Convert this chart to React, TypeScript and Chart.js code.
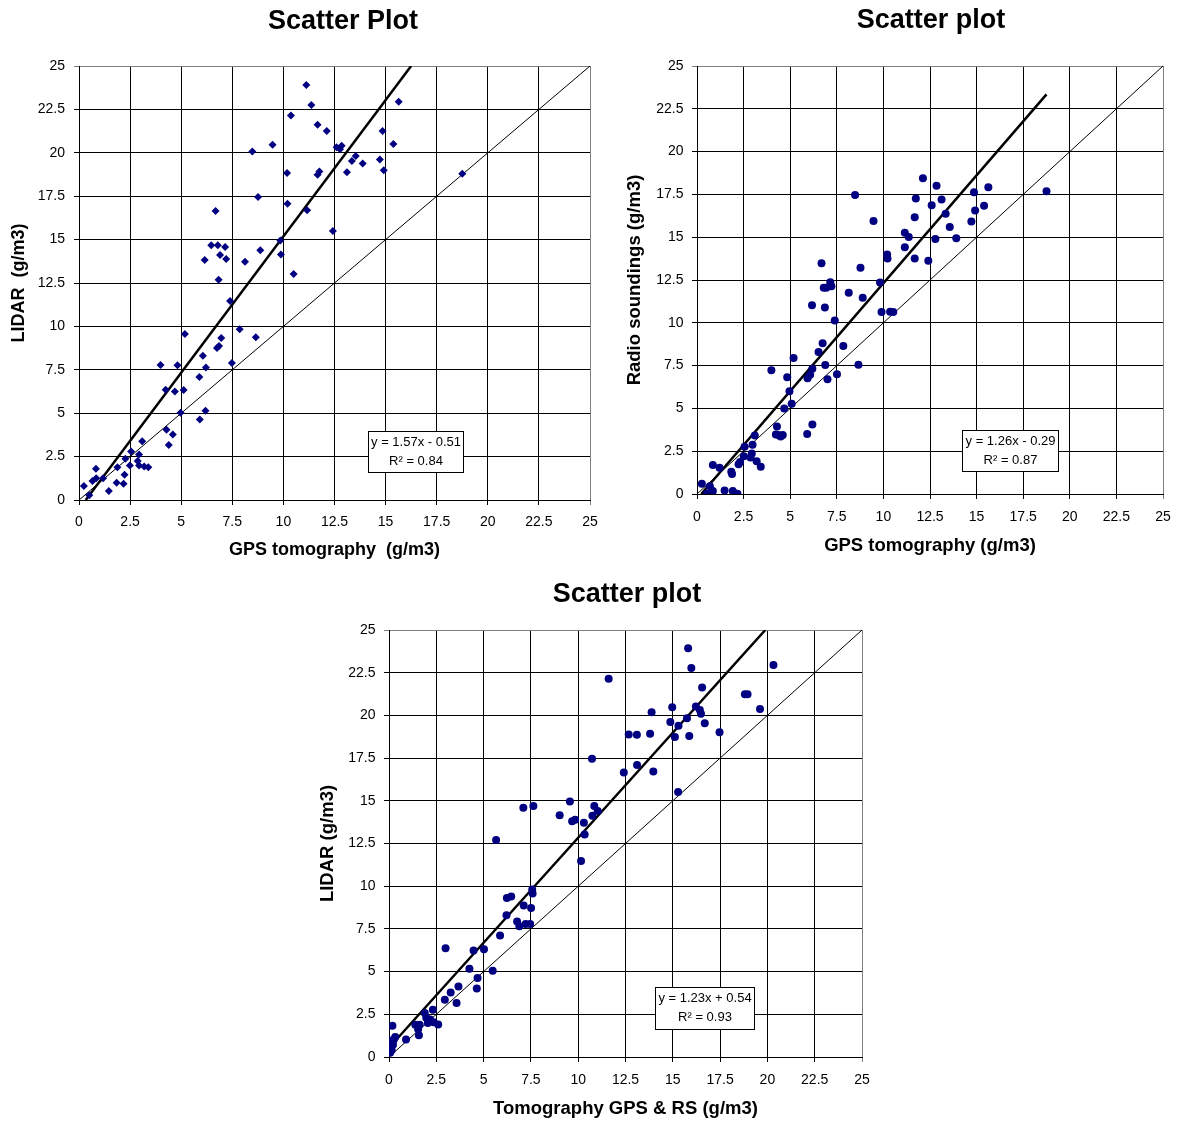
import React, { useEffect, useRef } from "react";
import { Chart, registerables } from "chart.js";

Chart.register(...registerables);

const FONT = "'Liberation Sans', Arial, Helvetica, sans-serif";
const NAVY = "#000080";

// ---------- Chart 1: GPS tomography vs LIDAR ----------
const gps1 = [0.83, 0.24, 0.5, 0.66, 0.84, 1.18, 1.46, 1.88, 1.84, 2.18, 2.23, 2.27, 2.55, 2.49, 2.94, 2.87, 2.94, 3.09, 3.19, 3.39, 3.99, 4.24, 4.28, 4.39, 4.59, 4.82, 4.69, 4.97, 5.12, 5.18, 5.89, 5.91, 6.06, 6.21, 6.19, 6.15, 6.47, 6.68, 6.79, 6.9, 6.83, 6.75, 6.85, 6.96, 7.15, 7.2, 7.39, 7.48, 7.86, 8.12, 8.48, 8.65, 8.76, 8.87, 9.47, 9.85, 9.88, 10.18, 10.2, 10.37, 10.5, 11.12, 11.16, 11.37, 11.67, 11.67, 11.76, 12.12, 12.42, 12.6, 12.77, 12.85, 13.11, 13.35, 13.54, 13.88, 14.72, 14.85, 14.91, 15.38, 15.64, 18.75];
const lidar1 = [1.8, 0.8, 0.27, 1.09, 1.26, 1.26, 0.52, 1.89, 1.0, 0.94, 1.45, 2.37, 2.79, 1.99, 2.62, 2.24, 1.99, 3.38, 1.93, 1.89, 7.78, 6.35, 4.05, 3.17, 3.78, 7.76, 6.25, 5.03, 6.33, 9.56, 7.09, 4.63, 8.31, 7.63, 5.14, 13.82, 14.68, 16.65, 14.68, 14.11, 12.69, 8.75, 8.87, 9.33, 14.58, 13.88, 11.47, 7.89, 9.84, 13.72, 20.07, 9.38, 17.45, 14.39, 20.47, 14.95, 14.14, 18.83, 17.07, 22.15, 13.02, 23.91, 16.69, 22.76, 21.62, 18.73, 18.92, 21.25, 15.5, 20.32, 20.2, 20.41, 18.88, 19.53, 19.82, 19.38, 19.61, 21.25, 19.0, 20.51, 22.94, 18.79];
const trend1X = [0.33, 16.25];
const trend1Y = [0, 25];

// ---------- Chart 2: GPS tomography vs Radio soundings ----------
const gps2 = [0.26, 0.53, 0.69, 0.85, 0.85, 1.21, 1.48, 1.84, 1.88, 1.92, 2.17, 2.23, 2.31, 2.51, 2.55, 2.87, 2.94, 2.98, 3.1, 3.2, 3.42, 3.99, 4.23, 4.29, 4.37, 4.49, 4.6, 4.68, 4.84, 4.96, 5.08, 5.18, 5.91, 5.93, 6.07, 6.19, 6.19, 6.17, 6.52, 6.68, 6.74, 6.8, 6.86, 6.88, 6.94, 7.0, 7.15, 7.21, 7.39, 7.51, 7.85, 8.14, 8.48, 8.66, 8.77, 8.89, 9.47, 9.82, 9.9, 10.2, 10.22, 10.36, 10.53, 11.15, 11.15, 11.36, 11.68, 11.74, 11.68, 12.12, 12.41, 12.59, 12.79, 12.85, 13.12, 13.34, 13.56, 13.91, 14.72, 14.86, 14.92, 15.4, 15.63, 18.75];
const rs2 = [0.6, 0.02, 0.45, 0.17, 1.7, 1.53, 0.21, 1.3, 1.17, 0.17, 0.02, 1.74, 1.87, 2.21, 2.76, 2.13, 2.36, 2.87, 3.42, 1.91, 1.59, 7.23, 3.47, 3.95, 3.44, 3.36, 3.44, 5.0, 6.82, 6.0, 5.27, 7.95, 3.51, 6.76, 6.97, 4.06, 7.31, 11.03, 8.29, 13.48, 8.8, 12.05, 10.9, 7.53, 12.05, 6.7, 12.37, 12.14, 10.14, 6.99, 8.65, 11.76, 17.47, 7.55, 13.22, 11.46, 15.94, 12.35, 10.63, 13.99, 13.75, 10.65, 10.63, 15.26, 14.41, 15.01, 16.16, 17.26, 13.75, 18.45, 13.63, 16.86, 14.9, 18.01, 17.2, 16.37, 15.6, 14.94, 15.92, 17.62, 16.56, 16.84, 17.92, 17.69];
const trend2X = [0.23, 18.75];
const trend2Y = [0, 23.34];

// ---------- Chart 3: Tomography GPS & RS vs LIDAR ----------
const gpsrs3 = [0.02, 0.06, 0.14, 0.18, 0.21, 0.25, 0.33, 0.9, 1.39, 1.54, 1.58, 1.62, 1.89, 1.97, 2.05, 2.17, 2.32, 2.36, 2.6, 2.95, 2.99, 3.26, 3.57, 3.67, 4.25, 4.47, 4.64, 4.68, 5.02, 5.48, 5.66, 5.87, 6.21, 6.23, 6.46, 6.77, 6.89, 7.1, 7.12, 7.22, 7.46, 7.51, 7.57, 7.59, 7.63, 9.02, 9.56, 9.68, 9.84, 10.15, 10.3, 10.34, 10.73, 10.75, 10.85, 11.03, 11.61, 12.41, 12.67, 13.1, 13.11, 13.8, 13.88, 13.97, 14.87, 14.97, 15.11, 15.28, 15.3, 15.75, 15.81, 15.87, 15.98, 16.22, 16.43, 16.49, 16.55, 16.69, 17.47, 18.81, 18.95, 19.61, 20.32];
const lidar3 = [0.97, 0.25, 0.39, 1.83, 0.72, 1.01, 1.17, 1.03, 1.89, 1.62, 1.27, 1.89, 2.57, 2.3, 1.99, 2.2, 2.77, 2.03, 1.91, 3.35, 6.37, 3.78, 3.16, 4.13, 5.16, 6.24, 4.01, 4.62, 6.31, 5.05, 12.7, 7.11, 8.3, 9.31, 9.39, 7.93, 7.66, 14.59, 8.87, 7.79, 7.79, 8.73, 9.8, 9.57, 14.69, 14.15, 14.96, 13.8, 13.89, 11.48, 13.72, 13.02, 17.46, 14.13, 14.69, 14.4, 22.14, 16.66, 18.88, 18.86, 17.09, 18.92, 20.19, 16.72, 19.62, 20.48, 18.73, 15.51, 19.39, 19.84, 23.93, 18.8, 22.78, 20.52, 20.32, 20.09, 21.64, 19.54, 19.02, 21.24, 21.24, 20.38, 22.95];
const trend3X = [0, 19.89];
const trend3Y = [0.54, 25];

// identity line y = x
const identityX = [0, 25];
const identityY = [0, 25];

const toPoints = (xs: number[], ys: number[]) => xs.map((x, i) => ({ x, y: ys[i] }));

type Cfg = {
  left: number; top: number; width: number; height: number;
  padTop: number; padRight: number;
  yAxisWidth: number; xAxisHeight: number;
  xs: number[]; ys: number[]; pointStyle: string;
  trendX: number[]; trendY: number[];
  title: string; titleX: number; titleY: number;
  xTitle: string; yTitle: string; axisTitleSize: number;
  yTitlePad: number; xTitlePadBottom: number;
  xTickPad: number; yTickPad: number;
  box: { dx: number; dy: number; w: number; h: number };
  eq: string; r2: string;
};

const annotatePlugin = {
  id: "annotate",
  afterDraw(chart: any, _args: any, opts: any) {
    const ctx = chart.ctx as CanvasRenderingContext2D;
    const a = chart.chartArea;
    ctx.save();
    ctx.fillStyle = "#000";
    ctx.font = `bold 27px ${FONT}`;
    ctx.textAlign = "center";
    ctx.textBaseline = "middle";
    ctx.fillText(opts.title, opts.titleX, opts.titleY);
    const bx = Math.round(a.left + opts.box.dx) + 0.5;
    const by = Math.round(a.top + opts.box.dy) + 0.5;
    const w = Math.round(opts.box.w);
    const h = Math.round(opts.box.h);
    ctx.fillStyle = "#fff";
    ctx.fillRect(bx, by, w, h);
    ctx.strokeStyle = "#000";
    ctx.lineWidth = 1;
    ctx.strokeRect(bx, by, w, h);
    ctx.fillStyle = "#000";
    ctx.font = `13px ${FONT}`;
    ctx.fillText(opts.eq, bx + w / 2, by + 11);
    ctx.fillText(opts.r2, bx + w / 2, by + 30);
    ctx.restore();
  },
};

function ScatterPanel({ cfg }: { cfg: Cfg }) {
  const ref = useRef<HTMLCanvasElement>(null);
  useEffect(() => {
    const canvas = ref.current;
    if (!canvas) return;
    const gridColor = (ctx: any) => (ctx.tick && ctx.tick.value === 25 ? "#808080" : "#000000");
    const chart = new Chart(canvas, {
      type: "scatter",
      data: {
        datasets: [
          {
            data: toPoints(cfg.xs, cfg.ys),
            pointStyle: cfg.pointStyle as any,
            pointRadius: 4,
            backgroundColor: NAVY,
            borderColor: NAVY,
            borderWidth: 0,
            order: 0,
          },
          {
            data: toPoints(cfg.trendX, cfg.trendY),
            showLine: true,
            borderColor: "#000",
            borderWidth: 2.5,
            pointRadius: 0,
            order: 1,
          },
          {
            data: toPoints(identityX, identityY),
            showLine: true,
            borderColor: "#000",
            borderWidth: 1,
            pointRadius: 0,
            order: 2,
          },
        ],
      },
      options: {
        animation: false,
        responsive: false,
        devicePixelRatio: 1,
        events: [],
        layout: { padding: { top: cfg.padTop, right: cfg.padRight, left: 0, bottom: 0 } },
        plugins: {
          legend: { display: false },
          tooltip: { enabled: false },
          title: { display: false },
          annotate: {
            title: cfg.title, titleX: cfg.titleX, titleY: cfg.titleY,
            box: cfg.box, eq: cfg.eq, r2: cfg.r2,
          },
        } as any,
        scales: {
          x: {
            type: "linear",
            min: 0,
            max: 25,
            afterFit: (s: any) => { s.height = cfg.xAxisHeight; s.paddingLeft = 0; s.paddingRight = 0; },
            ticks: { stepSize: 2.5, color: "#000", font: { size: 14, family: FONT }, padding: cfg.xTickPad, maxRotation: 0, autoSkip: false },
            grid: { color: gridColor, lineWidth: 1, tickLength: 5 },
            border: { color: "#000", width: 1 },
            title: { display: true, text: cfg.xTitle, color: "#000", font: { size: cfg.axisTitleSize, weight: "bold", family: FONT }, padding: { top: 0, bottom: cfg.xTitlePadBottom } },
          },
          y: {
            type: "linear",
            min: 0,
            max: 25,
            afterFit: (s: any) => { s.width = cfg.yAxisWidth; s.paddingTop = 0; s.paddingBottom = 0; },
            ticks: { stepSize: 2.5, color: "#000", font: { size: 14, family: FONT }, padding: cfg.yTickPad, autoSkip: false },
            grid: { color: gridColor, lineWidth: 1, tickLength: 5 },
            border: { color: "#000", width: 1 },
            title: { display: true, text: cfg.yTitle, color: "#000", font: { size: cfg.axisTitleSize, weight: "bold", family: FONT }, padding: { top: cfg.yTitlePad, bottom: 0 } },
          },
        },
      },
      plugins: [annotatePlugin as any],
    });
    return () => chart.destroy();
  }, [cfg]);
  return (
    <canvas
      ref={ref}
      width={cfg.width}
      height={cfg.height}
      style={{ position: "absolute", left: cfg.left, top: cfg.top, width: cfg.width, height: cfg.height, display: "block" }}
    />
  );
}

const cfg1: Cfg = {
  left: 0, top: 0, width: 600, height: 565,
  padTop: 66, padRight: 10, yAxisWidth: 79, xAxisHeight: 65,
  xs: gps1, ys: lidar1, pointStyle: "rectRot",
  trendX: trend1X, trendY: trend1Y,
  title: "Scatter Plot", titleX: 343, titleY: 22,
  xTitle: "GPS tomography  (g/m3)", yTitle: "LIDAR  (g/m3)", axisTitleSize: 18,
  yTitlePad: 8.4, xTitlePadBottom: 4.2, xTickPad: 9, yTickPad: 9,
  box: { dx: 289, dy: 365, w: 95, h: 41 },
  eq: "y = 1.57x - 0.51", r2: "R\u00B2 = 0.84",
};

const cfg2: Cfg = {
  left: 610, top: 0, width: 568, height: 565,
  padTop: 66, padRight: 15, yAxisWidth: 87, xAxisHeight: 71,
  xs: gps2, ys: rs2, pointStyle: "circle",
  trendX: trend2X, trendY: trend2Y,
  title: "Scatter plot", titleX: 321, titleY: 21,
  xTitle: "GPS tomography (g/m3)", yTitle: "Radio soundings (g/m3)", axisTitleSize: 18.5,
  yTitlePad: 14, xTitlePadBottom: 8, xTickPad: 10, yTickPad: 8.5,
  box: { dx: 265, dy: 364, w: 96, h: 41 },
  eq: "y = 1.26x - 0.29", r2: "R\u00B2 = 0.87",
};

const cfg3: Cfg = {
  left: 300, top: 570, width: 575, height: 551,
  padTop: 60, padRight: 13, yAxisWidth: 89, xAxisHeight: 64,
  xs: gpsrs3, ys: lidar3, pointStyle: "circle",
  trendX: trend3X, trendY: trend3Y,
  title: "Scatter plot", titleX: 327, titleY: 25,
  xTitle: "Tomography GPS & RS (g/m3)", yTitle: "LIDAR (g/m3)", axisTitleSize: 18.5,
  yTitlePad: 17, xTitlePadBottom: 1.2, xTickPad: 10, yTickPad: 8.5,
  box: { dx: 266, dy: 357, w: 99, h: 42 },
  eq: "y = 1.23x + 0.54", r2: "R\u00B2 = 0.93",
};

export default function App() {
  return (
    <div style={{ position: "absolute", left: 0, top: 0, width: 1178, height: 1121, background: "#fff", overflow: "hidden" }}>
      <ScatterPanel cfg={cfg1} />
      <ScatterPanel cfg={cfg2} />
      <ScatterPanel cfg={cfg3} />
    </div>
  );
}
